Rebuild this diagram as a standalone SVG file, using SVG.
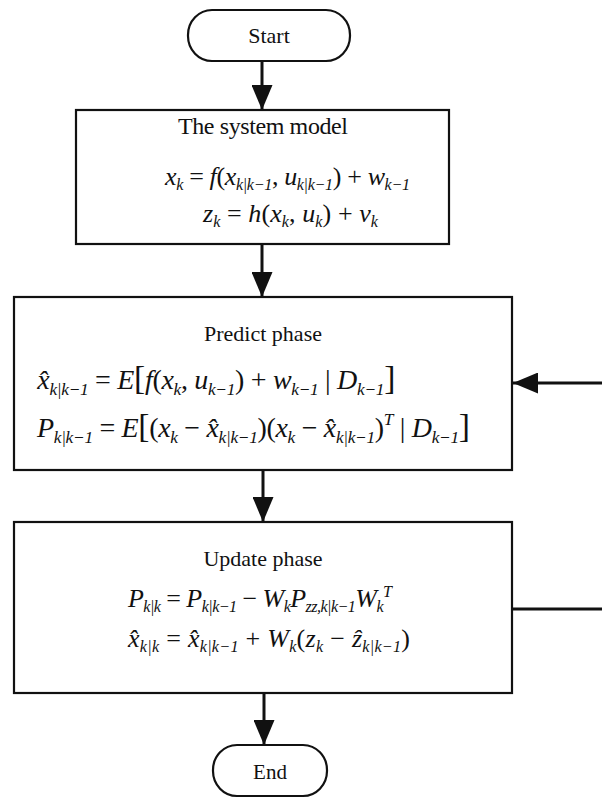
<svg xmlns="http://www.w3.org/2000/svg" width="602" height="798" viewBox="0 0 602 798">
<style>
.box{fill:#fff;stroke:#111;stroke-width:2.2}
.conn{fill:none;stroke:#111;stroke-width:3}
text{font-family:"Liberation Serif","Times New Roman",serif;fill:#111}
.ttl{font-size:22px}
.eq{font-size:26px}
.i{font-style:italic}
.sub{font-size:0.62em;font-style:italic}
.br{font-size:1.2em}
</style>
<defs>
<marker id="ah" markerUnits="userSpaceOnUse" viewBox="0 0 25 21" refX="25" refY="10.5" markerWidth="25" markerHeight="21" orient="auto">
<path d="M0 0L25 10.5L0 21Z" fill="#111"/>
</marker>
</defs>

<g id="connectors">
<path class="conn" d="M262 61V110" marker-end="url(#ah)"/>
<path class="conn" d="M262 244V297" marker-end="url(#ah)"/>
<path class="conn" d="M263 470V522" marker-end="url(#ah)"/>
<path class="conn" d="M264 693V745" marker-end="url(#ah)"/>
<path class="conn" d="M512 609H650V383H513" marker-end="url(#ah)"/>
</g>

<g id="start">
<rect class="box" x="188" y="10" width="162" height="51" rx="24" ry="25"/>
<text class="ttl" x="269" y="43" text-anchor="middle">Start</text>
</g>

<g id="system-model">
<rect class="box" x="76" y="110" width="373" height="134"/>
<text class="ttl" x="178" y="134" textLength="170" style="font-size:24px">The system model</text>
<text class="eq" x="165" y="185" textLength="245"><tspan class="i">x</tspan><tspan class="sub" dy="5">k</tspan><tspan dy="-5"> = </tspan><tspan class="i">f</tspan><tspan>(</tspan><tspan class="i">x</tspan><tspan class="sub" dy="5">k|k−1</tspan><tspan dy="-5">, </tspan><tspan class="i">u</tspan><tspan class="sub" dy="5">k|k−1</tspan><tspan dy="-5">) + </tspan><tspan class="i">w</tspan><tspan class="sub" dy="5">k−1</tspan></text>
<text class="eq" x="203" y="222" textLength="175"><tspan class="i">z</tspan><tspan class="sub" dy="5">k</tspan><tspan dy="-5"> = </tspan><tspan class="i">h</tspan><tspan>(</tspan><tspan class="i">x</tspan><tspan class="sub" dy="5">k</tspan><tspan dy="-5">, </tspan><tspan class="i">u</tspan><tspan class="sub" dy="5">k</tspan><tspan dy="-5">) + </tspan><tspan class="i">v</tspan><tspan class="sub" dy="5">k</tspan></text>
</g>

<g id="predict-phase">
<rect class="box" x="14" y="297" width="498" height="173"/>
<text class="ttl" x="263" y="341" text-anchor="middle">Predict phase</text>
<text class="eq" x="37" y="389" textLength="358" style="font-size:28px"><tspan class="i">x̂</tspan><tspan class="sub" dy="6">k|k−1</tspan><tspan dy="-6"> = </tspan><tspan class="i">E</tspan><tspan class="br">[</tspan><tspan class="i">f</tspan><tspan>(</tspan><tspan class="i">x</tspan><tspan class="sub" dy="6">k</tspan><tspan dy="-6">, </tspan><tspan class="i">u</tspan><tspan class="sub" dy="6">k−1</tspan><tspan dy="-6">) + </tspan><tspan class="i">w</tspan><tspan class="sub" dy="6">k−1</tspan><tspan dy="-6"> | </tspan><tspan class="i">D</tspan><tspan class="sub" dy="6">k−1</tspan><tspan class="br" dy="-6">]</tspan></text>
<text class="eq" x="37" y="437" textLength="433" style="font-size:28px"><tspan class="i">P</tspan><tspan class="sub" dy="6">k|k−1</tspan><tspan dy="-6"> = </tspan><tspan class="i">E</tspan><tspan class="br">[</tspan><tspan>(</tspan><tspan class="i">x</tspan><tspan class="sub" dy="6">k</tspan><tspan dy="-6"> − </tspan><tspan class="i">x̂</tspan><tspan class="sub" dy="6">k|k−1</tspan><tspan dy="-6">)(</tspan><tspan class="i">x</tspan><tspan class="sub" dy="6">k</tspan><tspan dy="-6"> − </tspan><tspan class="i">x̂</tspan><tspan class="sub" dy="6">k|k−1</tspan><tspan dy="-6">)</tspan><tspan class="sub" dy="-12">T</tspan><tspan dy="12"> | </tspan><tspan class="i">D</tspan><tspan class="sub" dy="6">k−1</tspan><tspan class="br" dy="-6">]</tspan></text>
</g>

<g id="update-phase">
<rect class="box" x="14" y="522" width="498" height="171"/>
<text class="ttl" x="263" y="566" text-anchor="middle">Update phase</text>
<text class="eq" x="128" y="607" textLength="264"><tspan class="i">P</tspan><tspan class="sub" dy="5">k|k</tspan><tspan dy="-5"> = </tspan><tspan class="i">P</tspan><tspan class="sub" dy="5">k|k−1</tspan><tspan dy="-5"> − </tspan><tspan class="i">W</tspan><tspan class="sub" dy="5">k</tspan><tspan class="i" dy="-5">P</tspan><tspan class="sub" dy="5">zz,k|k−1</tspan><tspan class="i" dy="-5">W</tspan><tspan class="sub" dy="5">k</tspan><tspan class="sub" dy="-15">T</tspan></text>
<text class="eq" x="128" y="647" textLength="282"><tspan class="i">x̂</tspan><tspan class="sub" dy="5">k|k</tspan><tspan dy="-5"> = </tspan><tspan class="i">x̂</tspan><tspan class="sub" dy="5">k|k−1</tspan><tspan dy="-5"> + </tspan><tspan class="i">W</tspan><tspan class="sub" dy="5">k</tspan><tspan dy="-5">(</tspan><tspan class="i">z</tspan><tspan class="sub" dy="5">k</tspan><tspan dy="-5"> − </tspan><tspan class="i">ẑ</tspan><tspan class="sub" dy="5">k|k−1</tspan><tspan dy="-5">)</tspan></text>
</g>

<g id="end">
<rect class="box" x="213" y="745" width="114" height="51" rx="24" ry="25"/>
<text class="ttl" x="270" y="779" text-anchor="middle" style="font-size:21px">End</text>
</g>
</svg>
